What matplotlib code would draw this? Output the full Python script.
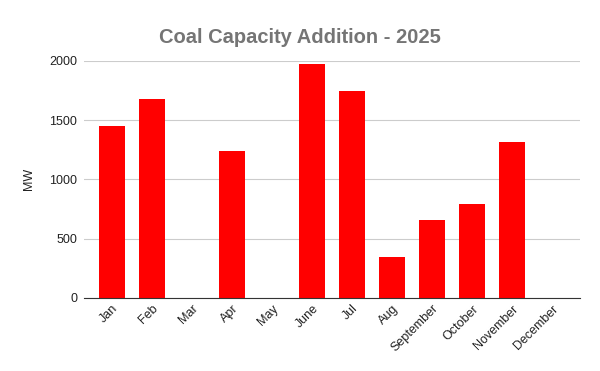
import matplotlib
matplotlib.use("Agg")
import matplotlib.pyplot as plt

months = ["Jan", "Feb", "Mar", "Apr", "May", "June", "Jul", "Aug",
          "September", "October", "November", "December"]
mw = [1452, 1680, 0, 1242, 0, 1972, 1746, 348, 660, 795, 1318, 0]

plt.rcParams['font.family'] = ['Liberation Sans', 'DejaVu Sans']

fig = plt.figure(figsize=(6, 3.71), dpi=100)
ax = fig.add_axes([0.14, 0.197, 0.827, 0.639])

x = range(len(months))
ax.bar(x, mw, width=0.65, color="#ff0000", zorder=3)

ax.set_xlim(-0.7, 11.7)
ax.set_ylim(0, 2000)
ax.set_yticks([0, 500, 1000, 1500, 2000])
ax.grid(axis="y", color="#cccccc", linewidth=0.8, zorder=0)
for s in ["top", "right", "left"]:
    ax.spines[s].set_visible(False)
ax.spines["bottom"].set_color("#333333")
ax.spines["bottom"].set_zorder(4)
ax.tick_params(length=0, labelsize=9, colors="#222222")
ax.tick_params(axis="y", pad=5)
ax.set_xticks(list(x))
ax.set_xticklabels(months, rotation=45, ha="right", rotation_mode="anchor")
ax.set_ylabel("MW", fontsize=9, color="#222222", labelpad=10)

fig.suptitle("Coal Capacity Addition - 2025", x=0.5, y=0.925, fontsize=14.5,
             fontweight="bold", color="#757575")

fig.savefig("out.png", dpi=100)
